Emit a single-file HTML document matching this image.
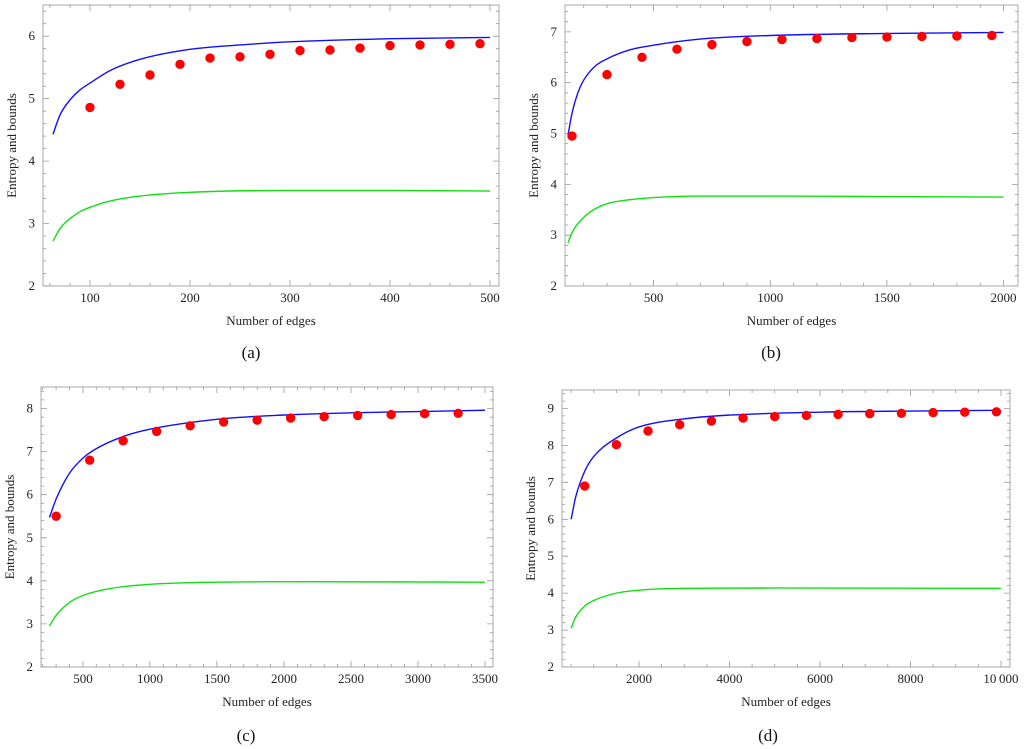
<!DOCTYPE html>
<html><head><meta charset="utf-8">
<style>
html,body{margin:0;padding:0;background:#fff;}
svg{display:block;font-family:"Liberation Serif",serif;}
</style></head>
<body>
<svg id="fig" width="1024" height="749" viewBox="0 0 1024 749" xmlns="http://www.w3.org/2000/svg"></svg>
<script>
// Panel (a)
const aBlueX=[63,70,80,90,100,120,150,200,250,300,400,500];
const aBlueY=[4.43,4.74,4.98,5.14,5.25,5.45,5.63,5.79,5.86,5.91,5.96,5.98];
const aGreenX=[63,70,80,90,100,120,150,200,300,400,500];
const aGreenY=[2.72,2.92,3.08,3.19,3.26,3.36,3.44,3.5,3.53,3.53,3.52];
const aDotX=[100,130,160,190,220,250,280,310,340,370,400,430,460,490];
const aDotY=[4.86,5.23,5.38,5.55,5.65,5.67,5.71,5.77,5.78,5.81,5.85,5.86,5.87,5.88];
const aXTicks=[100,200,300,400,500];
const aYTicks=[2,3,4,5,6];
// Panel (b)
const bBlueX=[133,150,175,200,250,300,400,500,700,1000,1500,2000];
const bBlueY=[4.97,5.4,5.8,6.05,6.33,6.47,6.65,6.74,6.86,6.93,6.97,6.99];
const bGreenX=[133,150,200,250,300,400,500,700,1000,1500,2000];
const bGreenY=[2.85,3.05,3.35,3.52,3.62,3.7,3.74,3.77,3.77,3.76,3.75];
const bDotX=[150,300,450,600,750,900,1050,1200,1350,1500,1650,1800,1950];
const bDotY=[4.95,6.16,6.5,6.66,6.75,6.81,6.85,6.87,6.89,6.9,6.91,6.92,6.93];
const bXTicks=[500,1000,1500,2000];
const bYTicks=[2,3,4,5,6,7];
// Panel (c)
const cBlueX=[250,300,400,500,600,800,1000,1500,2000,2500,3000,3500];
const cBlueY=[5.47,5.9,6.5,6.85,7.07,7.35,7.52,7.75,7.85,7.9,7.93,7.96];
const cGreenX=[250,300,400,500,700,1000,1500,2000,3500];
const cGreenY=[2.95,3.2,3.5,3.66,3.82,3.92,3.97,3.98,3.97];
const cDotX=[300,550,800,1050,1300,1550,1800,2050,2300,2550,2800,3050,3300];
const cDotY=[5.5,6.8,7.25,7.47,7.6,7.69,7.73,7.78,7.81,7.84,7.86,7.88,7.89];
const cXTicks=[500,1000,1500,2000,2500,3000,3500];
const cYTicks=[2,3,4,5,6,7,8];
// Panel (d)
const dBlueX=[500,600,800,1000,1500,2000,3000,4000,6000,8000,10000];
const dBlueY=[6.0,6.6,7.3,7.7,8.2,8.5,8.72,8.82,8.9,8.93,8.95];
const dGreenX=[500,600,800,1000,1500,2000,3000,5000,10000];
const dGreenY=[3.05,3.35,3.65,3.8,4.0,4.08,4.13,4.14,4.13];
const dDotX=[800,1500,2200,2900,3600,4300,5000,5700,6400,7100,7800,8500,9200,9900];
const dDotY=[6.9,8.02,8.39,8.56,8.66,8.74,8.78,8.81,8.84,8.86,8.87,8.89,8.9,8.91];
const dXTicks=[2000,4000,6000,8000,10000];
const dXLabels=["2000","4000","6000","8000","10\u2009000"];
const dYTicks=[2,3,4,5,6,7,8,9];

const NS="http://www.w3.org/2000/svg";
const svg=document.getElementById('fig');
function mk(tag,attrs,parent){const e=document.createElementNS(NS,tag);for(const k in attrs)e.setAttribute(k,attrs[k]);(parent||svg).appendChild(e);return e;}

// monotone cubic (Fritsch-Carlson) path through pixel points
function smoothPath(px,py){
  const n=px.length;const d=[],m=new Array(n);
  for(let i=0;i<n-1;i++)d.push((py[i+1]-py[i])/(px[i+1]-px[i]));
  m[0]=d[0];m[n-1]=d[n-2];
  for(let i=1;i<n-1;i++){m[i]=(d[i-1]*d[i]<=0)?0:(d[i-1]+d[i])/2;}
  for(let i=0;i<n-1;i++){
    if(d[i]===0){m[i]=0;m[i+1]=0;continue;}
    const a=m[i]/d[i],b=m[i+1]/d[i],s=a*a+b*b;
    if(s>9){const t=3/Math.sqrt(s);m[i]=t*a*d[i];m[i+1]=t*b*d[i];}
  }
  let p=`M${px[0].toFixed(2)},${py[0].toFixed(2)}`;
  for(let i=0;i<n-1;i++){
    const h=(px[i+1]-px[i])/3;
    p+=`C${(px[i]+h).toFixed(2)},${(py[i]+m[i]*h).toFixed(2)} ${(px[i+1]-h).toFixed(2)},${(py[i+1]-m[i+1]*h).toFixed(2)} ${px[i+1].toFixed(2)},${py[i+1].toFixed(2)}`;
  }
  return p;
}

function panel(cfg){
  const g=mk('g',{});
  
  
  const [L,R,T,B]=cfg.frame;
  const sx=v=>L+(v-cfg.xmin)/(cfg.xmax-cfg.xmin)*(R-L);
  const sy=v=>B-(v-cfg.ymin)/(cfg.ymax-cfg.ymin)*(B-T);
  const fr=mk('rect',{x:L,y:T,width:R-L,height:B-T,fill:'none',stroke:'#aaa','stroke-width':1},g);
  
  
  let p='';
  for(let v=Math.ceil(cfg.xmin/cfg.xminor)*cfg.xminor;v<=cfg.xmax+1e-9;v+=cfg.xminor){
    const x=sx(v).toFixed(1);const maj=cfg.xt.some(t=>Math.abs(t-v)<1e-6);const len=maj?6:3;
    p+=`M${x},${B}v${-len}M${x},${T}v${len}`;
  }
  for(let v=Math.ceil(cfg.ymin/0.2-1e-9)*0.2;v<=cfg.ymax+1e-9;v+=0.2){
    const y=sy(v).toFixed(1);const maj=Math.abs(v-Math.round(v))<1e-6;const len=maj?6:3;
    p+=`M${L},${y}h${len}M${R},${y}h${-len}`;
  }
  const tk=mk('path',{d:p,stroke:'#999','stroke-width':0.8,fill:'none'},g);
  
  
  cfg.xt.forEach((v,i)=>{
    const t=mk('text',{x:sx(v),y:B+16,'font-size':13,'text-anchor':'middle',fill:'#222'},g);
    t.textContent=cfg.xl?cfg.xl[i]:String(v);
    
    
  });
  cfg.yt.forEach(v=>{
    const t=mk('text',{x:L-8,y:sy(v)+4,'font-size':13,'text-anchor':'end',fill:'#222'},g);
    t.textContent=String(v);
    
    
  });
  const xt=mk('text',{x:(L+R)/2,y:B+39,'font-size':13,'text-anchor':'middle',fill:'#222'},g);
  xt.textContent='Number of edges';
  
  
  const yx=L-27,yy=(T+B)/2;
  const yt=mk('text',{x:yx,y:yy,'font-size':13,'text-anchor':'middle',fill:'#222',transform:`rotate(-90 ${yx} ${yy})`},g);
  yt.textContent='Entropy and bounds';
  
  
  const line=(X,Y,col,name)=>{
    const d=smoothPath(X.map(sx),Y.map(sy));
    const l=mk('path',{d:d,fill:'none',stroke:col,'stroke-width':1.4,'stroke-linejoin':'round'},g);
    
    
  };
  line(cfg.bx,cfg.by,'#1010ff','upper-bound-line');
  line(cfg.gx,cfg.gy,'#10e010','lower-bound-line');
  cfg.dx.forEach((v,i)=>{
    const c=mk('circle',{cx:sx(v),cy:sy(cfg.dy[i]),r:4.7,fill:'#ff0000'},g);
    
    
  });
  const cap=mk('text',{x:cfg.cap[0],y:cfg.cap[1],'font-size':17,'text-anchor':'middle',fill:'#111'},g);
  cap.textContent='('+cfg.id+')';
  
  
}

panel({id:'a',frame:[43,499,5,286],xmin:53,xmax:509,ymin:2,ymax:6.5,xminor:20,xt:aXTicks,yt:aYTicks,
  bx:aBlueX,by:aBlueY,gx:aGreenX,gy:aGreenY,dx:aDotX,dy:aDotY,cap:[251,358]});
panel({id:'b',frame:[565,1018,5,286],xmin:120,xmax:2062,ymin:2,ymax:7.53,xminor:100,xt:bXTicks,yt:bYTicks,
  bx:bBlueX,by:bBlueY,gx:bGreenX,gy:bGreenY,dx:bDotX,dy:bDotY,cap:[771,358]});
panel({id:'c',frame:[41,493,387,667],xmin:187,xmax:3560,ymin:2,ymax:8.5,xminor:100,xt:cXTicks,yt:cYTicks,
  bx:cBlueX,by:cBlueY,gx:cGreenX,gy:cGreenY,dx:cDotX,dy:cDotY,cap:[246,741]});
panel({id:'d',frame:[562,1010,390,667],xmin:298,xmax:10200,ymin:2,ymax:9.5,xminor:500,xt:dXTicks,xl:dXLabels,yt:dYTicks,
  bx:dBlueX,by:dBlueY,gx:dGreenX,gy:dGreenY,dx:dDotX,dy:dDotY,cap:[768,741]});
</script>
</body></html>
